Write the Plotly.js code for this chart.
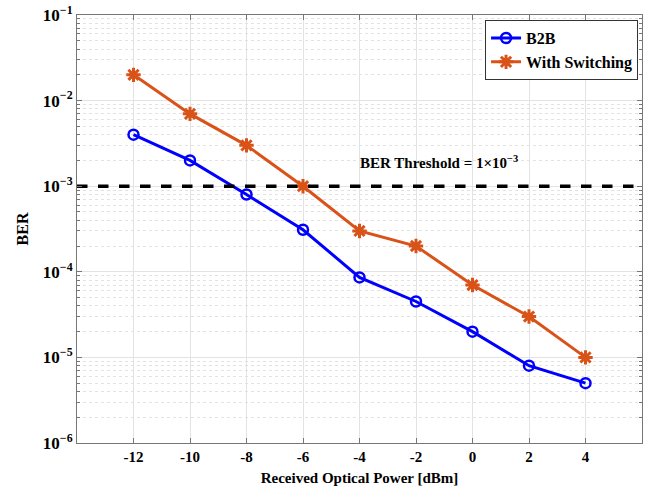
<!DOCTYPE html>
<html><head><meta charset="utf-8">
<script src="https://cdn.plot.ly/plotly-3.0.1.min.js"></script>
<style>body{margin:0;background:#fff}#c{width:649px;height:493px}</style>
</head><body><div id="c"></div>
<script>
const power = [-12, -10, -8, -6, -4, -2, 0, 2, 4];
const berB2B = [4e-3, 2e-3, 8e-4, 3.1e-4, 8.6e-5, 4.5e-5, 2e-5, 8e-6, 5e-6];
const berSwitching = [2e-2, 7e-3, 3e-3, 1e-3, 3e-4, 2e-4, 7e-5, 3e-5, 1e-5];
const thresholdX = [-14, 6];
const thresholdY = [1e-3, 1e-3];
const xTicks = [-12, -10, -8, -6, -4, -2, 0, 2, 4];
const yTicks = [1e-6, 1e-5, 1e-4, 1e-3, 1e-2, 1e-1];
const yTickText = ['10<sup>−6</sup>','10<sup>−5</sup>','10<sup>−4</sup>','10<sup>−3</sup>','10<sup>−2</sup>','10<sup>−1</sup>'];

const minorVals = [];
for (let d = -6; d < -1; d++) for (let m = 2; m <= 9; m++) minorVals.push(m * Math.pow(10, d));

const fontFam = 'Liberation Serif, Times New Roman, serif';
const traces = [
  {x: power, y: berB2B, name: '<b>B2B</b>', mode: 'lines+markers',
   line: {color: '#0000FF', width: 3},
   marker: {symbol: 'circle-open', size: 10, color: '#0000FF', line: {width: 2.5, color: '#0000FF'}}},
  {x: power, y: berSwitching, name: '<b>With Switching</b>', mode: 'lines+markers',
   line: {color: '#D95319', width: 3},
   marker: {symbol: 'asterisk-open', size: 12, color: '#D95319', line: {width: 3, color: '#D95319'}}},
  {x: thresholdX, y: thresholdY, mode: 'lines', showlegend: false, hoverinfo: 'skip',
   line: {color: '#000000', width: 3.5, dash: 'dash'}}
];
const layout = {
  width: 649, height: 493,
  margin: {l: 77, r: 7, t: 15, b: 50},
  paper_bgcolor: '#fff', plot_bgcolor: '#fff',
  font: {family: fontFam, size: 13, color: '#000'},
  showlegend: true,
  legend: {x: 0.993, y: 0.988, xanchor: 'right', yanchor: 'top',
    bordercolor: '#333', borderwidth: 1, bgcolor: '#fff',
    font: {family: fontFam, size: 16, color: '#000'}, tracegroupgap: 8},
  xaxis: {
    range: [-14, 6], tickvals: xTicks, ticktext: xTicks.map(v => '<b>' + v + '</b>'),
    showgrid: true, gridcolor: '#e3e3e3', gridwidth: 1,
    showline: true, linecolor: '#777', linewidth: 1, mirror: 'ticks',
    ticks: 'inside', ticklen: 5, tickcolor: '#777',
    zeroline: false,
    tickfont: {family: fontFam, size: 15, color: '#000'},
    title: {text: '<b>Received Optical Power [dBm]</b>', font: {family: fontFam, size: 15, color: '#000'}, standoff: 8}
  },
  yaxis: {
    type: 'log', range: [-6, -1],
    tickvals: yTicks, ticktext: yTickText.map(t => '<b>' + t + '</b>'),
    showgrid: true, gridcolor: '#e3e3e3', gridwidth: 1,
    minor: {tickmode: 'array', tickvals: minorVals, showgrid: true, gridcolor: '#e2e2e2', griddash: 'dot', gridwidth: 1, ticks: 'inside', ticklen: 3, tickcolor: '#777'},
    showline: true, linecolor: '#777', linewidth: 1, mirror: 'ticks',
    ticks: 'inside', ticklen: 5, tickcolor: '#777',
    tickfont: {family: fontFam, size: 17, color: '#000'},
    title: {text: '<b>BER</b>', font: {family: fontFam, size: 16, color: '#000'}, standoff: 10}
  },
  annotations: [{
    x: -1.2, y: Math.log10(1.9e-3), xref: 'x', yref: 'y',
    text: '<b>BER Threshold = 1×10<sup>−3</sup></b>', showarrow: false,
    font: {family: fontFam, size: 15, color: '#000'}
  }]
};
Plotly.newPlot('c', traces, layout, {displayModeBar: false, staticPlot: true});
</script></body></html>
